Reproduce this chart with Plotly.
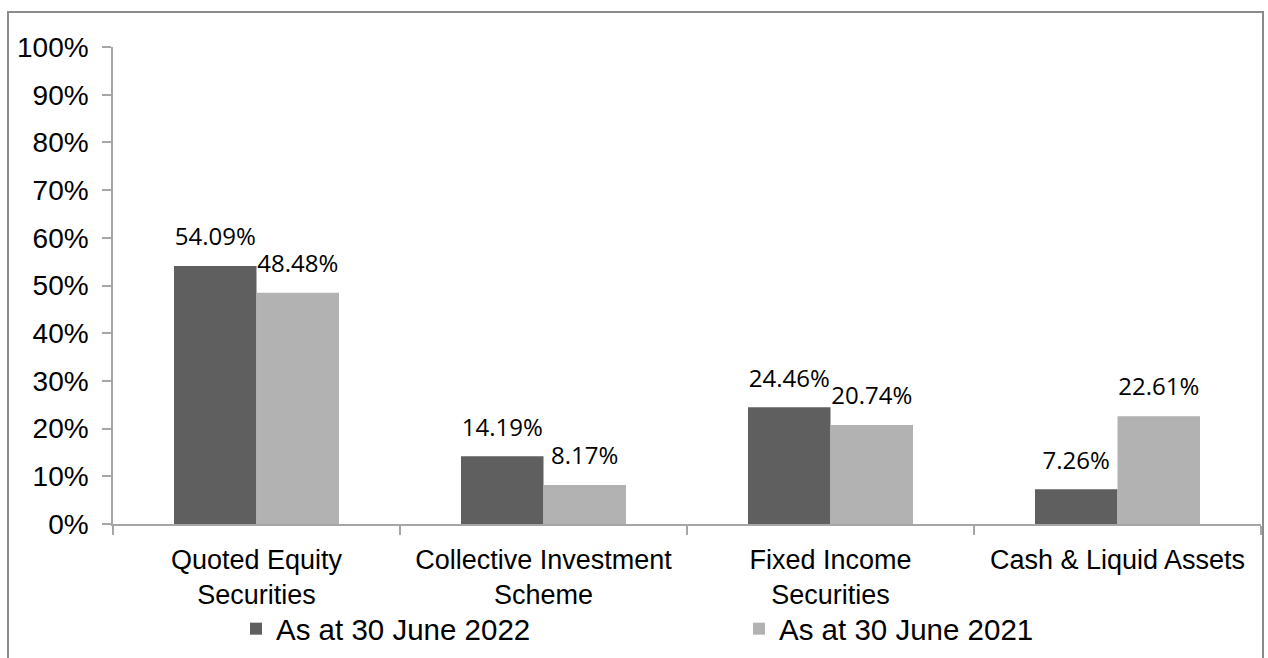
import plotly.graph_objects as go

categories = ["Quoted Equity<br>Securities", "Collective Investment<br>Scheme",
              "Fixed Income<br>Securities", "Cash & Liquid Assets"]
series_2022 = [54.09, 14.19, 24.46, 7.26]
series_2021 = [48.48, 8.17, 20.74, 22.61]
name_2022 = "As at 30 June 2022"
name_2021 = "As at 30 June 2021"

W, H = 1268, 658
L, R, T, B = 113, 7, 47, 134
pw = W - L - R
ph = H - T - B

label_font = dict(family="Open Sans, Noto Sans, sans-serif", size=24, color="#000000")
GAP = 0.425

fig = go.Figure()
for vals, name, color, grp in [(series_2022, name_2022, "#5f5f5f", "a"),
                               (series_2021, name_2021, "#b2b2b2", "b")]:
    fig.add_trace(go.Bar(
        x=categories, y=vals, name=name, offsetgroup=grp,
        marker=dict(color=color, line=dict(width=0)),
    ))
for vals, grp in [(series_2022, "a"), (series_2021, "b")]:
    fig.add_trace(go.Scatter(
        x=categories, y=vals, offsetgroup=grp, mode="markers+text",
        text=[f"{v:.2f}%" for v in vals], textposition="top center",
        textfont=label_font, marker=dict(size=22, opacity=0),
        showlegend=False, cliponaxis=False, hoverinfo="skip",
    ))

axis_col = "#a6a6a6"
fig.update_layout(
    width=W, height=H,
    margin=dict(l=L, r=R, t=T, b=B, pad=0, autoexpand=False),
    paper_bgcolor="white", plot_bgcolor="white",
    barmode="group", bargap=GAP, bargroupgap=0,
    scattermode="group", scattergap=GAP,
    font=dict(family="Liberation Sans, Arial, sans-serif", color="#000000"),
    showlegend=True,
    legend=dict(
        orientation="h", x=(236 - L) / pw, xanchor="left",
        y=(T + ph - 629) / ph, yanchor="middle",
        entrywidth=458, entrywidthmode="pixels",
        font=dict(family="Liberation Sans, Arial, sans-serif", size=29.5, color="#000000"),
        bgcolor="rgba(0,0,0,0)", traceorder="normal",
    ),
    xaxis=dict(
        showline=True, linecolor=axis_col, linewidth=1.5,
        ticks="outside", tickson="boundaries", ticklen=9, tickcolor=axis_col, tickwidth=1.5,
        tickfont=dict(size=27), showgrid=False, zeroline=False,
        ticklabelstandoff=11,
    ),
    yaxis=dict(
        range=[0, 100], dtick=10, ticksuffix="%",
        showline=True, linecolor=axis_col, linewidth=1.5,
        ticks="outside", ticklen=9, tickcolor=axis_col, tickwidth=1.5,
        tickfont=dict(size=28), showgrid=False, zeroline=False,
        ticklabelstandoff=8,
    ),
    shapes=[dict(
        type="rect", xref="paper", yref="paper",
        x0=(8 - L) / pw, x1=(1263 - L) / pw,
        y0=-0.6, y1=1 + (T - 12) / ph,
        line=dict(color="#8c8c8c", width=2), fillcolor="rgba(0,0,0,0)", layer="below",
    )],
)

fig.write_html("out.html")
